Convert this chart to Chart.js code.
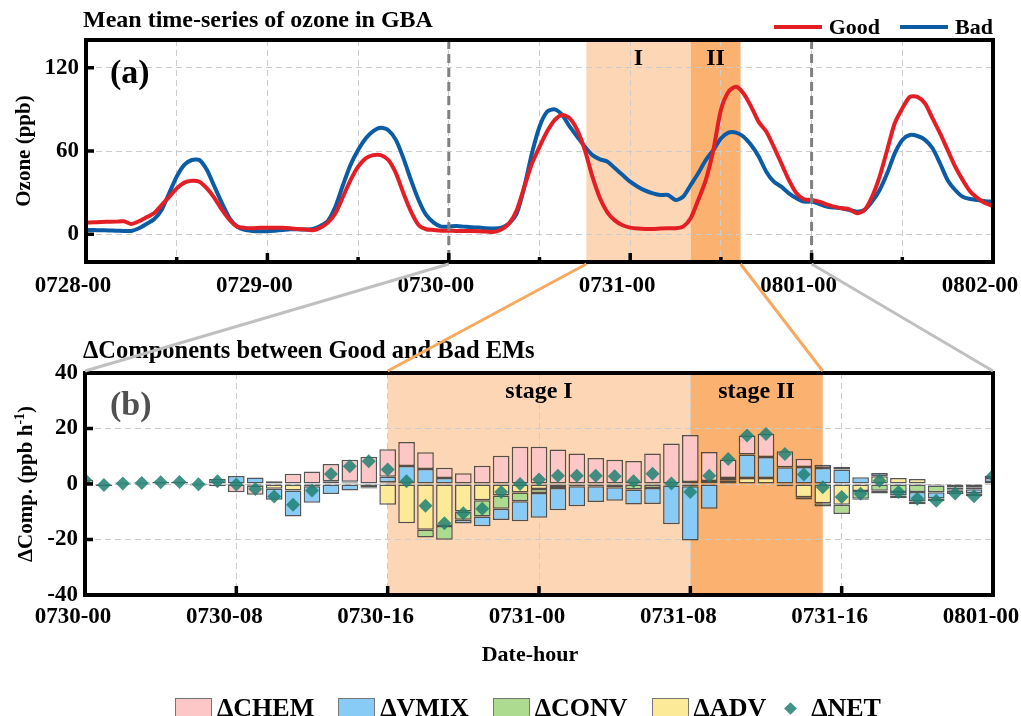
<!DOCTYPE html>
<html lang="en">
<head>
<meta charset="UTF-8">
<title>Mean time-series of ozone in GBA</title>
<script src="https://cdn.jsdelivr.net/npm/chart.js"></script>
<style>
    body { margin: 0; background: #fff; font-family: "Liberation Serif", "Times New Roman", serif; }
    #wrap { position: relative; width: 1021px; height: 716px; overflow: hidden; }
    canvas { position: absolute; left: 0; }
    #topChart { top: 0; }
    #botChart { top: 300px; }
    #links { top: 0; pointer-events: none; }
    .legend { position: absolute; display: flex; align-items: center; font-weight: bold; color: #000; white-space: nowrap; }
    #legendA { top: 14px; right: 28px; font-size: 22px; }
    #legendA .item { display: flex; align-items: center; margin-left: 20px; }
    #legendA .swatch { width: 48px; height: 4px; margin-right: 7px; }
    #legendB { top: 693px; left: 175px; font-size: 26px; }
    #legendB .item { display: flex; align-items: center; margin-right: 24px; }
    #legendB .box { width: 35px; height: 19px; border: 1px solid #777; margin-right: 5px; }
    #legendB .diamond { width: 9px; height: 9px; transform: rotate(45deg); margin: 0 16px 0 -4px; }
</style>
</head>
<body>
<div id="wrap">
    <canvas id="topChart" width="1021" height="300"></canvas>
    <canvas id="botChart" width="1021" height="380"></canvas>
    <canvas id="links" width="1021" height="716"></canvas>
    <div id="legendA" class="legend"></div>
    <div id="legendB" class="legend"></div>
</div>

<script>
// ---- panel (a): hourly mean ozone, 0728-00 .. 0802-00 ----
const TOP_HOURS = Array.from({length: 121}, (_, i) => i);
const GOOD = [
    8.4, 8.6, 8.9, 9.0, 9.1, 9.4, 7.4, 9.4, 12.2, 15.1,
    21.0, 27.0, 33.0, 37.2, 38.6, 37.9, 33.0, 26.0, 17.5, 10.3,
    5.5, 4.6, 4.3, 4.6, 4.6, 4.6, 4.6, 4.3, 3.8, 3.4,
    2.9, 4.8, 8.4, 15.1, 27.0, 39.0, 48.7, 54.7, 57.0, 57.0,
    53.5, 44.0, 29.5, 16.3, 6.7, 3.6, 3.1, 2.6, 2.6, 2.4,
    2.4, 2.4, 2.2, 1.9, 1.7, 3.6, 7.9, 17.5, 34.3, 51.0,
    63.0, 74.0, 82.3, 86.0, 83.5, 75.0, 60.7, 41.5, 26.0, 15.6,
    9.8, 6.5, 4.8, 4.1, 3.8, 3.8, 4.1, 4.3, 4.3, 5.5,
    11.5, 24.7, 39.0, 60.7, 89.5, 102.7, 106.3, 101.5, 92.0, 81.0,
    74.0, 63.0, 51.0, 39.0, 29.5, 25.2, 24.7, 23.5, 21.6, 19.9,
    18.7, 18.0, 15.1, 17.5, 27.0, 41.5, 60.7, 80.0, 90.7, 99.0,
    99.0, 94.3, 83.5, 72.7, 60.7, 48.7, 39.0, 30.7, 25.9, 22.3,
    20.4
];
const BAD = [
    3.1, 3.0, 2.9, 2.7, 2.6, 2.4, 2.4, 4.3, 7.4, 10.8,
    17.5, 29.5, 41.5, 50.0, 53.5, 53.5, 46.3, 34.3, 22.3, 11.5,
    5.5, 3.1, 2.4, 2.2, 2.2, 2.6, 3.1, 3.6, 3.6, 3.4,
    3.8, 6.0, 9.6, 20.0, 35.5, 50.0, 60.7, 69.0, 74.4, 76.8,
    75.0, 68.0, 54.7, 39.0, 24.7, 13.9, 8.4, 5.5, 5.5, 6.0,
    5.5, 5.0, 4.8, 4.3, 4.1, 4.8, 8.0, 15.1, 34.3, 58.3,
    77.5, 88.3, 90.0, 86.0, 77.5, 70.3, 63.0, 57.0, 54.0, 52.3,
    47.5, 42.7, 37.9, 34.3, 31.4, 29.5, 28.3, 28.3, 24.7, 27.0,
    35.5, 43.9, 53.5, 60.7, 69.0, 73.2, 73.2, 70.3, 64.3, 56.0,
    45.1, 37.9, 34.3, 29.5, 26.0, 23.5, 23.5, 21.8, 19.9, 19.2,
    18.7, 17.5, 16.3, 17.5, 23.5, 31.9, 43.9, 58.3, 68.0, 71.5,
    70.8, 68.0, 62.0, 51.0, 39.0, 31.9, 27.0, 25.4, 24.7, 23.8,
    23.5
];
const TOP_TICK_LABELS = ['0728-00', '0729-00', '0730-00', '0731-00', '0801-00', '0802-00'];
const TOP_GRID = [0, 12, 24, 36, 48, 60, 72, 84, 96, 108, 120];
const TOP_Y_TICKS = [0, 60, 120];
const TOP_MARKS = [48, 96];          // zoom window of panel (b)
const TOP_STAGES = [
    {name: 'I', from: 66.2, to: 80, color: '#fdd6b5'},
    {name: 'II', from: 80, to: 86.6, color: '#fbb270'}
];

// ---- panel (b): hourly component differences, 0730-00 .. 0801-00 ----
const BOT_HOURS = Array.from({length: 49}, (_, i) => i);
const CHEM = [
    1.5, 0.3, 0.5, 0.5, 0.7, 0.8, 0.4, -0.8, -3.0, -3.3,
    1.0, 3.7, 4.5, 6.2, 7.9, 9.8, 9.9, 8.6, 6.0, 3.7,
    3.9, 6.6, 10.2, 13.4, 13.4, 12.4, 11.0, 9.4, 8.7, 8.3,
    11.0, 14.6, 17.0, 10.4, 6.6, 6.9, 8.4, 5.8, 3.0, 1.1,
    1.0, -0.4, -1.0, -1.0, -1.0, -0.9, -1.2, -1.0, 0.8
];
const VMIX = [
    0, -0.5, -0.3, -0.1, -0.1, -0.2, -0.5, 1.8, 2.9, 2.3,
    -4.0, -9.4, -6.0, -3.6, -2.3, -0.4, 2.0, 6.5, 5.4, 2.2,
    -1.3, -3.5, -4.1, -7.2, -9.0, -8.1, -7.2, -5.7, -4.8, -5.4,
    -5.8, -14.0, -19.6, -8.9, 0, 8.4, 7.5, 6.0, 6.1, 5.8,
    5.2, 2.4, 1.2, -1.2, -3.4, -2.2, -0.3, -1.4, 1.5
];
const CONV = [
    0, 0, 0, 0, 0, 0, 0, 0, 0, 0,
    0, 0, 0, 0.3, 0.3, 0, 0.6, 0, -2.8, -5.0,
    -3.0, -5.8, -4.8, -3.1, -1.4, -0.7, -0.8, -0.8, -1.2, -2.0,
    -1.4, -0.5, 0.7, 0.8, 1.0, 0, 0, 0, -0.8, -1.2,
    -3.3, -2.8, -2.4, -2.9, -2.9, -2.5, -0.8, -0.7, 0
];
const ADV = [
    0, -0.2, 0, 0, 0, 0, 0, 0, 0, -0.6,
    -1.7, -2.3, -0.8, 0.7, 0.5, -1.2, -7.5, -14.1, -16.5, -15.1,
    -9.9, -5.9, -4.1, -3.1, -1.8, -0.7, 0, 0, 0, 0,
    0, 0, -0.8, 0.3, 1.2, 2.2, 2.2, -0.8, -4.8, -6.9,
    -7.5, -2.5, 2.8, 2.2, 1.8, -0.5, -1.3, -1.2, 0.7
];
const NET = [
    1.5, -0.4, 0.2, 0.4, 0.6, 0.7, -0.1, 1.0, -0.2, -1.8,
    -4.5, -7.5, -2.3, 3.6, 6.4, 8.2, 5.2, 1.0, -7.8, -14.1,
    -10.5, -8.9, -2.9, 0.0, 1.6, 3.0, 3.0, 3.0, 2.8, 1.0,
    3.7, 0.2, -2.9, 3.0, 9.0, 17.5, 18.0, 10.8, 3.4, -1.2,
    -4.7, -3.5, 1.2, -2.9, -5.3, -6.0, -3.4, -4.4, 3.0
];
const BOT_TICK_LABELS = ['0730-00', '0730-08', '0730-16', '0731-00', '0731-08', '0731-16', '0801-00'];
const BOT_STAGES = [
    {name: 'stage I', from: 16, to: 32, color: '#fdd6b5'},
    {name: 'stage II', from: 32, to: 39, color: '#fbb270'}
];

// ---- styles ----
const SERIF = "'Liberation Serif', 'Times New Roman', serif";
const GRID_COLOR = '#cccccc';
const GRID_DASH = [6, 4];
const TICK_FONT = {family: SERIF, size: 23, weight: 'bold'};
const NET_COLOR = 'rgba(32, 128, 114, 0.85)';

Chart.defaults.font.family = SERIF;
Chart.defaults.color = '#000';

function txt(ctx, s, x, y, size, align, color) {
    ctx.font = 'bold ' + size + 'px ' + SERIF;
    ctx.fillStyle = color || '#000';
    ctx.textAlign = align || 'left';
    ctx.textBaseline = 'middle';
    ctx.fillText(s, x, y);
}

function shade(chart, stages) {
    const {ctx, chartArea: a, scales: {x}} = chart;
    stages.forEach(s => {
        const x0 = x.getPixelForValue(s.from), x1 = x.getPixelForValue(s.to);
        ctx.fillStyle = s.color;
        ctx.fillRect(x0, a.top, x1 - x0, a.bottom - a.top);
    });
}

function stageNames(chart, stages) {
    const {ctx, chartArea: a, scales: {x}} = chart;
    stages.forEach(s => {
        const mid = (x.getPixelForValue(s.from) + x.getPixelForValue(s.to)) / 2;
        txt(ctx, s.name, mid, a.top + 19, 24, 'center');
    });
}

// black box + inward tick marks
function frame(chart, xMajor, xMinor, yTicks) {
    const {ctx, chartArea: a, scales: {x, y}} = chart;
    ctx.save();
    ctx.strokeStyle = '#000';
    ctx.lineWidth = 3.5;
    ctx.beginPath();
    xMajor.forEach(v => { const p = x.getPixelForValue(v); ctx.moveTo(p, a.bottom); ctx.lineTo(p, a.bottom - 9); });
    xMinor.forEach(v => { const p = x.getPixelForValue(v); ctx.moveTo(p, a.bottom); ctx.lineTo(p, a.bottom - 5); });
    yTicks.forEach(v => { const p = y.getPixelForValue(v); ctx.moveTo(a.left, p); ctx.lineTo(a.left + 8, p); });
    ctx.stroke();
    ctx.lineWidth = 4;
    ctx.strokeRect(a.left, a.top, a.right - a.left, a.bottom - a.top);
    ctx.restore();
}

const topDecor = {
    id: 'topDecor',
    beforeDraw(chart) { shade(chart, TOP_STAGES); },
    afterDatasetsDraw(chart) {
        const {ctx, chartArea: a, scales: {x}} = chart;
        ctx.save();
        ctx.strokeStyle = '#808080';
        ctx.lineWidth = 3;
        ctx.setLineDash([9, 5]);
        ctx.beginPath();
        TOP_MARKS.forEach(v => { const p = x.getPixelForValue(v); ctx.moveTo(p, a.top); ctx.lineTo(p, a.bottom); });
        ctx.stroke();
        ctx.restore();
    },
    afterDraw(chart) {
        const {ctx, chartArea: a} = chart;
        frame(chart, [24, 48, 72, 96], [12, 36, 60, 84, 108], TOP_Y_TICKS);
        stageNames(chart, TOP_STAGES);
        txt(ctx, 'Mean time-series of ozone in GBA', a.left - 3, 21, 24);
        txt(ctx, '(a)', a.left + 24, a.top + 34, 34);
        ctx.save();
        ctx.translate(25, (a.top + a.bottom) / 2);
        ctx.rotate(-Math.PI / 2);
        txt(ctx, 'Ozone (ppb)', 0, 0, 21, 'center');
        ctx.restore();
    }
};

const botDecor = {
    id: 'botDecor',
    beforeDraw(chart) { shade(chart, BOT_STAGES); },
    afterDraw(chart) {
        const {ctx, chartArea: a} = chart;
        frame(chart, [8, 16, 24, 32, 40], [], [-20, 0, 20]);
        stageNames(chart, BOT_STAGES);
        txt(ctx, '\u0394Components between Good and Bad EMs', a.left - 2, 52, 24.5);
        txt(ctx, '(b)', a.left + 25, a.top + 33, 34, 'left', '#505050');
        txt(ctx, 'Date-hour', (a.left + a.right) / 2 - 9, 355, 22, 'center');
        // y title with superscript
        ctx.save();
        ctx.translate(27, (a.top + a.bottom) / 2);
        ctx.rotate(-Math.PI / 2);
        ctx.font = 'bold 21px ' + SERIF;
        const p1 = '\u0394Comp. (ppb h', p3 = ')';
        const w1 = ctx.measureText(p1).width, w3 = ctx.measureText(p3).width;
        ctx.font = 'bold 14px ' + SERIF;
        const w2 = ctx.measureText('-1').width;
        let x0 = -(w1 + w2 + w3) / 2;
        txt(ctx, p1, x0, 0, 21);
        txt(ctx, '-1', x0 + w1, -7, 14);
        txt(ctx, p3, x0 + w1 + w2, 0, 21);
        ctx.restore();
    }
};

function gridOpts() {
    return {color: GRID_COLOR, lineWidth: 1, drawTicks: false};
}

// ---- chart (a) ----
const chartA = new Chart(document.getElementById('topChart'), {
    type: 'line',
    data: {
        datasets: [
            {label: 'Good', data: TOP_HOURS.map((h, i) => ({x: h, y: GOOD[i]})),
             borderColor: '#e31e25', backgroundColor: '#e31e25', borderWidth: 4, pointRadius: 0, tension: 0.25},
            {label: 'Bad', data: TOP_HOURS.map((h, i) => ({x: h, y: BAD[i]})),
             borderColor: '#0b5ca5', backgroundColor: '#0b5ca5', borderWidth: 4, pointRadius: 0, tension: 0.25}
        ]
    },
    options: {
        responsive: false, animation: false, events: [],
        layout: {padding: {top: 40, right: 28, left: 0, bottom: 0}},
        plugins: {legend: {display: false}, tooltip: {enabled: false}},
        scales: {
            x: {
                type: 'linear', min: 0, max: 120,
                afterBuildTicks: s => { s.ticks = TOP_GRID.map(v => ({value: v})); },
                afterFit: s => { s.height = 38; s.paddingLeft = 0; s.paddingRight = 0; },
                ticks: {autoSkip: false, maxRotation: 0, padding: 10, labelOffset: -13, font: TICK_FONT,
                        callback: v => v % 24 === 0 ? TOP_TICK_LABELS[v / 24] : ''},
                grid: gridOpts(),
                border: {display: false, dash: GRID_DASH}
            },
            y: {
                type: 'linear', min: -20, max: 140,
                afterBuildTicks: s => { s.ticks = TOP_Y_TICKS.map(v => ({value: v})); },
                afterFit: s => { s.width = 86; s.paddingTop = 0; s.paddingBottom = 0; },
                ticks: {padding: 7, font: TICK_FONT},
                grid: gridOpts(),
                border: {display: false, dash: GRID_DASH}
            }
        }
    },
    plugins: [topDecor]
});

// ---- chart (b) ----
const COMPONENTS = [   // stacking order from zero outward
    {label: '\u0394ADV', values: ADV, color: '#fdea98'},
    {label: '\u0394CONV', values: CONV, color: '#addb8f'},
    {label: '\u0394VMIX', values: VMIX, color: '#88cbf6'},
    {label: '\u0394CHEM', values: CHEM, color: '#fec7c7'}
];
const LEGEND_B_ORDER = ['\u0394CHEM', '\u0394VMIX', '\u0394CONV', '\u0394ADV', '\u0394NET'];

const barSets = COMPONENTS.map(c => ({
    type: 'bar',
    label: c.label,
    data: BOT_HOURS.map((h, i) => ({x: h, y: c.values[i]})).filter(p => p.y !== 0),
    backgroundColor: c.color,
    borderColor: 'rgba(55, 55, 55, 0.85)',
    borderWidth: 1.5,
    borderSkipped: false,
    barPercentage: 0.88,
    categoryPercentage: 1,
    stack: 'comp',
    order: 1
}));

const chartB = new Chart(document.getElementById('botChart'), {
    type: 'bar',
    data: {
        datasets: [
            {type: 'line', label: '\u0394NET', data: BOT_HOURS.map((h, i) => ({x: h, y: NET[i]})),
             showLine: false, pointStyle: 'rectRot', pointRadius: 7, borderWidth: 0,
             backgroundColor: NET_COLOR, borderColor: NET_COLOR, stack: 'net', order: 0},
            ...barSets
        ]
    },
    options: {
        responsive: false, animation: false, events: [],
        layout: {padding: {top: 73, right: 28, left: 0, bottom: 0}},
        plugins: {legend: {display: false}, tooltip: {enabled: false}},
        scales: {
            x: {
                type: 'linear', min: 0, max: 48, offset: false,
                afterBuildTicks: s => { s.ticks = BOT_TICK_LABELS.map((_, i) => ({value: i * 8})); },
                afterFit: s => { s.height = 85; s.paddingLeft = 0; s.paddingRight = 0; },
                ticks: {autoSkip: false, maxRotation: 0, padding: 8, labelOffset: -12, font: TICK_FONT,
                        callback: v => BOT_TICK_LABELS[v / 8]},
                grid: Object.assign(gridOpts(), {offset: false}),
                border: {display: false, dash: GRID_DASH}
            },
            y: {
                type: 'linear', min: -40, max: 40, stacked: true,
                ticks: {stepSize: 20, padding: 7, font: TICK_FONT},
                afterFit: s => { s.width = 85; s.paddingTop = 0; s.paddingBottom = 0; },
                grid: gridOpts(),
                border: {display: false, dash: GRID_DASH}
            }
        }
    },
    plugins: [botDecor]
});

// ---- connector lines between panels ----
const LINK_GRAY = '#c0c0c0', LINK_ORANGE = '#f7a95e';
const LINKS = [
    {from: TOP_MARKS[0], to: 0, color: LINK_GRAY},
    {from: TOP_MARKS[1], to: 48, color: LINK_GRAY},
    {from: TOP_STAGES[0].from, to: BOT_STAGES[0].from, color: LINK_ORANGE},
    {from: TOP_STAGES[1].to, to: BOT_STAGES[1].to, color: LINK_ORANGE}
];
const lctx = document.getElementById('links').getContext('2d');
const aA = chartA.chartArea, aB = chartB.chartArea, offB = 300;
lctx.lineWidth = 3;
LINKS.forEach(l => {
    lctx.strokeStyle = l.color;
    lctx.beginPath();
    lctx.moveTo(chartA.scales.x.getPixelForValue(l.from), aA.bottom + 2);
    lctx.lineTo(chartB.scales.x.getPixelForValue(l.to), offB + aB.top - 2);
    lctx.stroke();
});

// ---- legends ----
const legendA = document.getElementById('legendA');
chartA.data.datasets.forEach(ds => {
    const item = document.createElement('div');
    item.className = 'item';
    item.innerHTML = '<span class="swatch" style="background:' + ds.borderColor + '"></span>' + ds.label;
    legendA.appendChild(item);
});

const legendB = document.getElementById('legendB');
LEGEND_B_ORDER.forEach(name => {
    const ds = chartB.data.datasets.find(d => d.label === name);
    const item = document.createElement('div');
    item.className = 'item';
    const mark = ds.type === 'line'
        ? '<span class="diamond" style="background:' + ds.backgroundColor + '"></span>'
        : '<span class="box" style="background:' + ds.backgroundColor + '"></span>';
    item.innerHTML = mark + ds.label;
    legendB.appendChild(item);
});
</script>
</body>
</html>
